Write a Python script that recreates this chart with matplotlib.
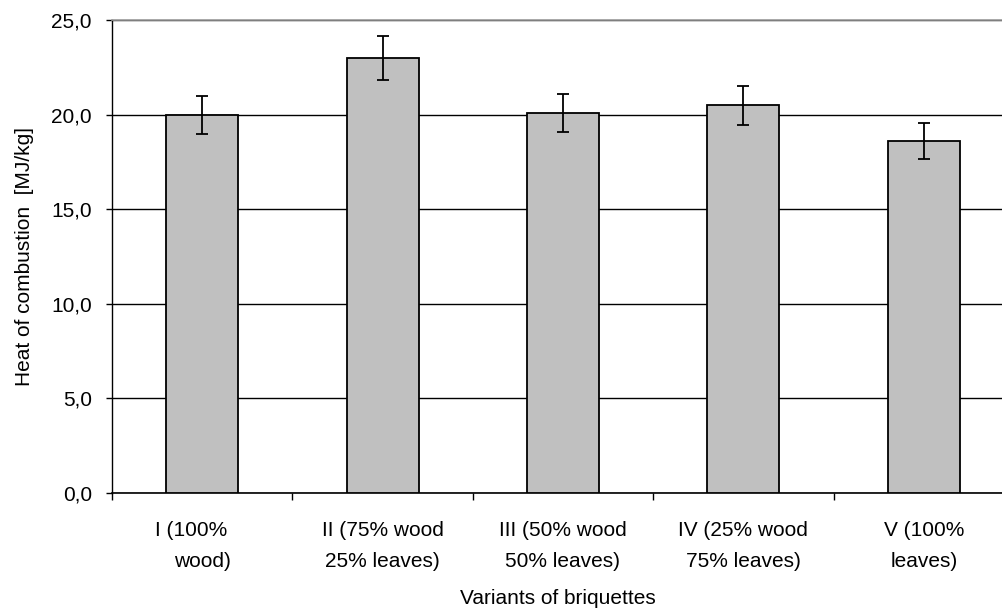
import matplotlib
matplotlib.use("Agg")
from matplotlib import pyplot as plt
from matplotlib.ticker import FuncFormatter, FixedLocator
import numpy as np

plt.rcParams['font.family'] = ['Liberation Sans', 'DejaVu Sans']

categories = ["I (100%    \nwood)", "II (75% wood\n25% leaves)", "III (50% wood\n50% leaves)",
              "IV (25% wood\n75% leaves)", "V (100%\nleaves)"]
heat = [20.0, 23.0, 20.1, 20.5, 18.6]
errors = [1.0, 1.15, 1.0, 1.03, 0.96]
yticks = [0, 5, 10, 15, 20, 25]

fig = plt.figure(figsize=(10.03, 6.12), dpi=100)
ax = fig.add_axes([112 / 1003, 119 / 612, 1 - 112 / 1003, 473 / 612])

x = np.arange(len(categories))
ax.bar(x, heat, width=0.4, color='#c0c0c0', edgecolor='black', linewidth=1.3, zorder=3)
ax.errorbar(x, heat, yerr=errors, fmt='none', ecolor='black', elinewidth=1.3,
            capsize=4.5, capthick=1.3, zorder=4)

ax.set_xlim(-0.5, 4.5 - 11 / 180.5)
ax.set_ylim(0, 25)
ax.set_yticks(yticks)
ax.yaxis.set_major_formatter(FuncFormatter(lambda v, p: f"{v:.1f}".replace('.', ',')))
ax.yaxis.grid(True, color='black', linewidth=1)
ax.set_axisbelow(True)

# ticks between the categories, labels centred under the bars
ax.xaxis.set_major_locator(FixedLocator(np.arange(-0.5, 5, 1)))
ax.xaxis.set_major_formatter(FuncFormatter(lambda v, p: ""))
ax.xaxis.set_minor_locator(FixedLocator(x))
ax.set_xticklabels(categories, minor=True, fontsize=15, linespacing=1.8)
ax.tick_params(axis='x', which='major', length=5, width=1, direction='out')
ax.tick_params(axis='x', which='minor', length=0, pad=20)
ax.tick_params(axis='y', length=4.5, width=1, labelsize=15, pad=10)

ax.spines['right'].set_visible(False)
ax.spines['top'].set_color('#999999')
ax.spines['top'].set_linewidth(1.2)
ax.spines['left'].set_linewidth(1)
ax.spines['bottom'].set_linewidth(1.2)

ax.set_ylabel("Heat of combustion  [MJ/kg]", fontsize=15, labelpad=12)
ax.set_xlabel("Variants of briquettes", fontsize=15, labelpad=13)

fig.savefig("out.png", dpi=100)
